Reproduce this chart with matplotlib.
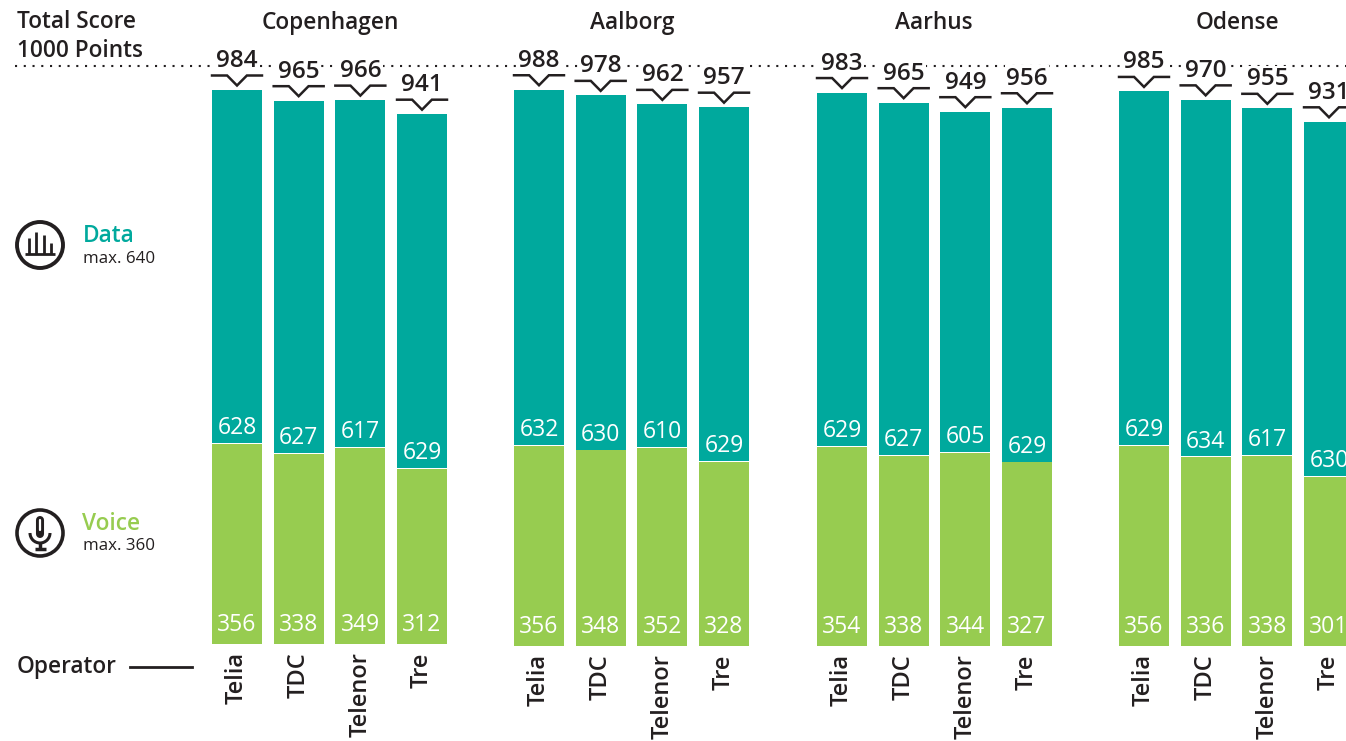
from matplotlib import pyplot as plt
from matplotlib.patches import Circle, Arc

cities = ["Copenhagen", "Aalborg", "Aarhus", "Odense"]
operators = ["Telia", "TDC", "Telenor", "Tre"]

voice_cph = [356, 338, 349, 312]
data_cph = [628, 627, 617, 629]
total_cph = [984, 965, 966, 941]

voice_aal = [356, 348, 352, 328]
data_aal = [632, 630, 610, 629]
total_aal = [988, 978, 962, 957]

voice_aar = [354, 338, 344, 327]
data_aar = [629, 627, 605, 629]
total_aar = [983, 965, 949, 956]

voice_ode = [356, 336, 338, 301]
data_ode = [629, 634, 617, 630]
total_ode = [985, 970, 955, 931]

voices = [voice_cph, voice_aal, voice_aar, voice_ode]
datas = [data_cph, data_aal, data_aar, data_ode]
totals = [total_cph, total_aal, total_aar, total_ode]

TEAL = "#00a99d"
GREEN = "#97cc50"
INK = "#231f20"
W, H = 1346, 741
SCALE = 0.5625  # pixels per point of score
STEP = 61.67  # pixels between bars

plt.rcParams["font.family"] = ["Open Sans", "DejaVu Sans"]

fig = plt.figure(figsize=(W / 100, H / 100), dpi=100)

# background layer in pixel coordinates, for the legend and header
bg = fig.add_axes([0, 0, 1, 1])
bg.set_xlim(0, W)
bg.set_ylim(H, 0)
bg.axis("off")

bg.plot([15, W], [66, 66], color=INK, lw=1.5, ls=(0, (1, 3.2)), zorder=1)
bg.text(17, 22, "Total Score", fontsize=16.3, fontweight="semibold", color=INK, va="center")
bg.text(17, 51, "1000 Points", fontsize=16.3, fontweight="semibold", color=INK, va="center")
bg.text(17, 667, "Operator", fontsize=16.3, fontweight="semibold", color=INK, va="center")
bg.plot([130, 192], [667, 667], color=INK, lw=2)

bg.text(83, 236, "Data", fontsize=16.3, fontweight="semibold", color=TEAL, va="center")
bg.text(83, 259, "max. 640", fontsize=12.2, color=INK, va="center")
bg.text(82, 524, "Voice", fontsize=16.3, fontweight="semibold", color=GREEN, va="center")
bg.text(83, 546, "max. 360", fontsize=12.2, color=INK, va="center")

# data icon
bg.add_patch(Circle((40, 245), 23, fill=False, ec=INK, lw=2.8))
bg.plot([25, 55], [254, 254], color=INK, lw=2, solid_capstyle="butt")
for bx, top in [(29, 238), (36, 232), (44, 235), (51, 243)]:
    bg.plot([bx, bx], [254, top], color=INK, lw=2, solid_capstyle="butt")

# voice icon
bg.add_patch(Circle((40, 533), 23, fill=False, ec=INK, lw=2.6))
bg.plot([40, 40], [520, 534], color=INK, lw=5.8, solid_capstyle="round")
bg.plot([40, 40], [520, 530], color="white", lw=1.6, solid_capstyle="round")
bg.add_patch(Arc((40, 533), 20, 20, theta1=0, theta2=180, ec=INK, lw=2.2))
bg.plot([40, 40], [543, 549], color=INK, lw=2.5, solid_capstyle="butt")
bg.plot([35, 46], [549, 549], color=INK, lw=2.5, solid_capstyle="butt")

first_centers = [237, 539, 842, 1144]
baselines = [644, 646, 646, 646]
title_x = [330, 632, 934, 1237]

for c in range(4):
    left = first_centers[c] - STEP / 2
    base = baselines[c]
    ax = fig.add_axes([left / W, (H - base) / H, 4 * STEP / W, base / H])
    ax.patch.set_visible(False)
    ax.set_xlim(-0.5, 3.5)
    ax.set_ylim(0, base / SCALE)
    for s in ax.spines.values():
        s.set_visible(False)
    ax.set_yticks([])
    ax.set_xticks(range(4))
    ax.set_xticklabels(operators, rotation=90, fontsize=17, fontweight="semibold", color=INK, va="top")
    ax.tick_params(axis="x", length=0, pad=6)

    xs = list(range(4))
    ax.bar(xs, voices[c], width=0.81, color=GREEN)
    ax.bar(xs, datas[c], width=0.81, bottom=[v + 1 for v in voices[c]], color=TEAL)

    for i in xs:
        v, d, t = voices[c][i], datas[c][i], totals[c][i]
        ax.text(i, 19 / SCALE, str(v), color="white", fontsize=16.5, ha="center", va="center")
        ax.text(i, v + 15.5 / SCALE, str(d), color="white", fontsize=16.5, ha="center", va="center")
        ax.text(i, t + 29.5 / SCALE, str(t), color=INK, fontsize=17.5, fontweight="semibold", ha="center", va="center",
                bbox=dict(fc="white", ec="none", pad=1), clip_on=False, zorder=3)
        # bracket with a notch pointing at the bar
        hw = 0.405
        ax.plot([i - hw, i - 0.16, i, i + 0.16, i + hw],
                [t + 15 / SCALE, t + 15 / SCALE, t + 5 / SCALE, t + 15 / SCALE, t + 15 / SCALE],
                color=INK, lw=1.8, clip_on=False, zorder=4, solid_joinstyle="miter")

    bg.text(title_x[c], 23, cities[c], fontsize=16.3, fontweight="semibold", color=INK, ha="center", va="center")

fig.savefig("out.png", dpi=100)
